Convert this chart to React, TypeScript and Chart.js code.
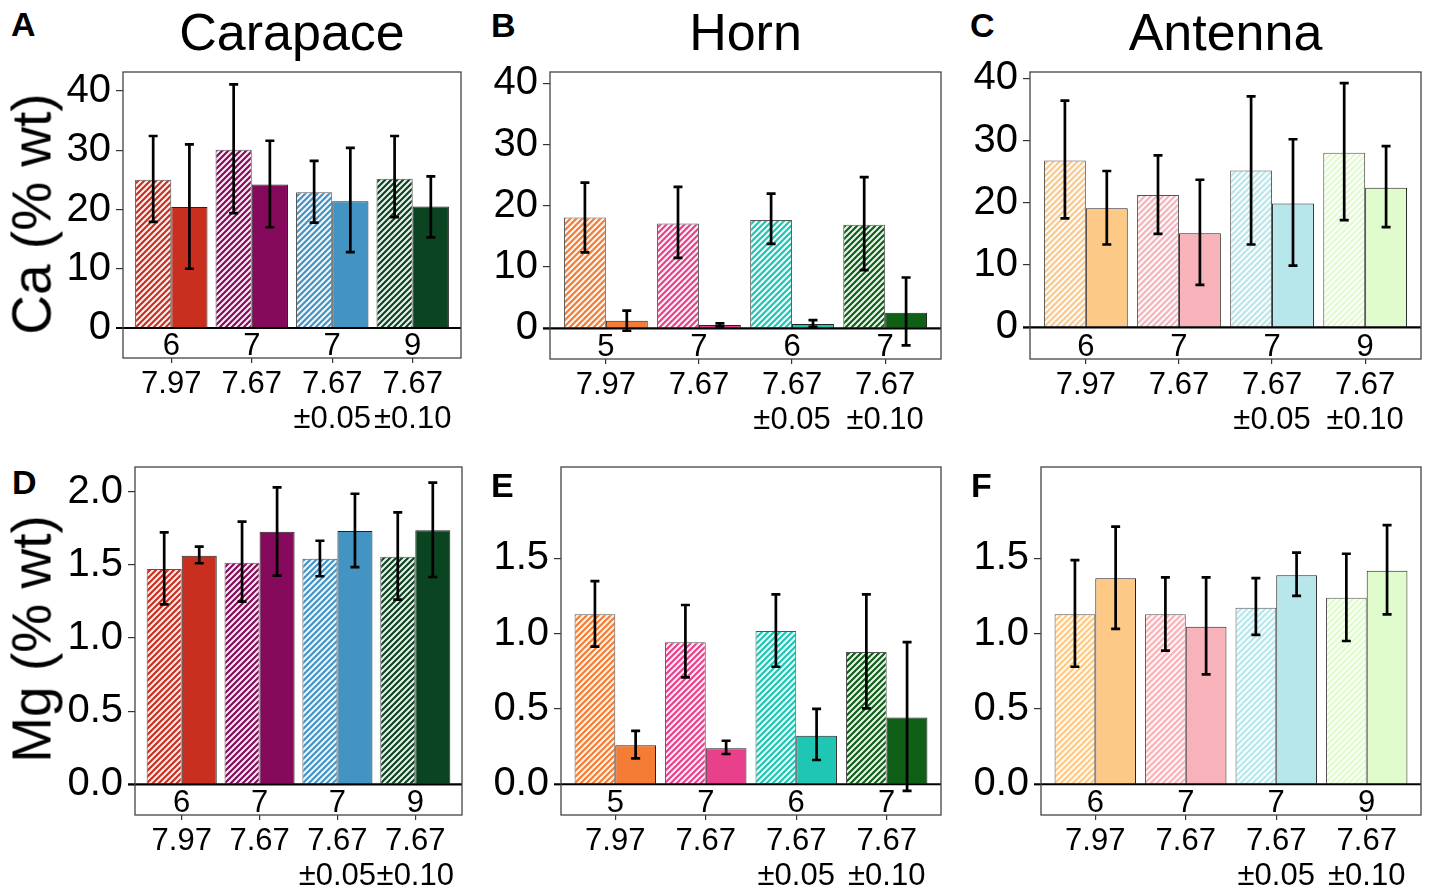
import React, { useEffect, useRef } from "react";
import { Chart, registerables } from "chart.js";

Chart.register(...registerables);

const FONT = "'Liberation Sans', Arial, Helvetica, sans-serif";

// ---- categories / tick labels ----
const phLabels: string[][] = [["7.97"], ["7.67"], ["7.67", "±0.05"], ["7.67", "±0.10"]];
const nCarapace = ["6", "7", "7", "9"];
const nHorn = ["5", "7", "6", "7"];
const nAntenna = ["6", "7", "7", "9"];

const caTicks = [0, 10, 20, 30, 40];
const mgTicksD = [0, 0.5, 1.0, 1.5, 2.0];
const mgTicksEF = [0, 0.5, 1.0, 1.5];

// ---- colours ----
const carapaceColors = ["#c92f1f", "#860a5c", "#4393c3", "#0a4420"];
const hornColors = ["#f47c34", "#e8408b", "#1fc6b4", "#0f5f17"];
const antennaColors = ["#fdc986", "#f8b2b9", "#b8e7eb", "#e0fbcc"];

// ---- A: Ca carapace ----
const caCarHatch = [25.0, 30.1, 22.9, 25.2];
const caCarHatchHi = [32.4, 41.1, 28.2, 32.4];
const caCarHatchLo = [17.9, 19.4, 17.8, 18.7];
const caCarSolid = [20.4, 24.2, 21.4, 20.5];
const caCarSolidHi = [31.0, 31.6, 30.4, 25.6];
const caCarSolidLo = [10.0, 17.0, 12.8, 15.3];

// ---- B: Ca horn ----
const caHornHatch = [18.1, 17.1, 17.7, 16.9];
const caHornHatchHi = [23.8, 23.1, 22.0, 24.7];
const caHornHatchLo = [12.4, 11.5, 13.8, 9.5];
const caHornSolid = [1.25, 0.55, 0.7, 2.55];
const caHornSolidHi = [2.9, 0.8, 1.35, 8.3];
const caHornSolidLo = [-0.4, 0.3, 0.25, -2.8];

// ---- C: Ca antenna ----
const caAntHatch = [26.8, 21.25, 25.2, 28.05];
const caAntHatchHi = [36.4, 27.6, 37.1, 39.2];
const caAntHatchLo = [17.5, 15.0, 13.3, 17.2];
const caAntSolid = [19.1, 15.1, 19.9, 22.4];
const caAntSolidHi = [25.1, 23.7, 30.2, 29.1];
const caAntSolidLo = [13.3, 6.8, 9.9, 16.1];

// ---- D: Mg carapace ----
const mgCarHatch = [1.472, 1.515, 1.542, 1.556];
const mgCarHatchHi = [1.722, 1.795, 1.665, 1.859];
const mgCarHatchLo = [1.23, 1.248, 1.422, 1.262];
const mgCarSolid = [1.563, 1.727, 1.731, 1.736];
const mgCarSolidHi = [1.624, 2.03, 1.986, 2.062];
const mgCarSolidLo = [1.511, 1.426, 1.485, 1.417];

// ---- E: Mg horn ----
const mgHornHatch = [1.128, 0.942, 1.017, 0.878];
const mgHornHatchHi = [1.349, 1.19, 1.261, 1.261];
const mgHornHatchLo = [0.913, 0.71, 0.78, 0.504];
const mgHornSolid = [0.259, 0.239, 0.322, 0.444];
const mgHornSolidHi = [0.354, 0.289, 0.5, 0.944];
const mgHornSolidLo = [0.172, 0.201, 0.161, -0.044];

// ---- F: Mg antenna ----
const mgAntHatch = [1.128, 1.128, 1.172, 1.238];
const mgAntHatchHi = [1.488, 1.374, 1.369, 1.53];
const mgAntHatchLo = [0.78, 0.887, 0.991, 0.951];
const mgAntSolid = [1.367, 1.046, 1.387, 1.418];
const mgAntSolidHi = [1.71, 1.374, 1.537, 1.72];
const mgAntSolidLo = [1.031, 0.73, 1.25, 1.128];

type PanelSpec = {
  id: string;
  left: number; top: number; width: number; height: number;
  padTop: number; padRight: number; yAxisW: number; xAxisH: number;
  yMin: number; yMax: number; yTicks: number[]; decimals: number;
  colors: string[]; n: string[];
  hatch: number[]; hatchHi: number[]; hatchLo: number[];
  solid: number[]; solidHi: number[]; solidLo: number[];
};

const panels: PanelSpec[] = [
  { id: "A", left: 40, top: 60, width: 440, height: 380, padTop: 12, padRight: 19, yAxisW: 83, xAxisH: 82,
    yMin: -5.06, yMax: 43.2, yTicks: caTicks, decimals: 0, colors: carapaceColors, n: nCarapace,
    hatch: caCarHatch, hatchHi: caCarHatchHi, hatchLo: caCarHatchLo, solid: caCarSolid, solidHi: caCarSolidHi, solidLo: caCarSolidLo },
  { id: "B", left: 480, top: 60, width: 480, height: 380, padTop: 12, padRight: 19, yAxisW: 70, xAxisH: 81,
    yMin: -5.01, yMax: 41.85, yTicks: caTicks, decimals: 0, colors: hornColors, n: nHorn,
    hatch: caHornHatch, hatchHi: caHornHatchHi, hatchLo: caHornHatchLo, solid: caHornSolid, solidHi: caHornSolidHi, solidLo: caHornSolidLo },
  { id: "C", left: 960, top: 60, width: 469, height: 380, padTop: 12, padRight: 8, yAxisW: 70, xAxisH: 81,
    yMin: -5.09, yMax: 41.0, yTicks: caTicks, decimals: 0, colors: antennaColors, n: nAntenna,
    hatch: caAntHatch, hatchHi: caAntHatchHi, hatchLo: caAntHatchLo, solid: caAntSolid, solidHi: caAntSolidHi, solidLo: caAntSolidLo },
  { id: "D", left: 40, top: 455, width: 440, height: 441, padTop: 12, padRight: 18, yAxisW: 95, xAxisH: 81,
    yMin: -0.21, yMax: 2.169, yTicks: mgTicksD, decimals: 1, colors: carapaceColors, n: nCarapace,
    hatch: mgCarHatch, hatchHi: mgCarHatchHi, hatchLo: mgCarHatchLo, solid: mgCarSolid, solidHi: mgCarSolidHi, solidLo: mgCarSolidLo },
  { id: "E", left: 480, top: 455, width: 480, height: 441, padTop: 12, padRight: 19, yAxisW: 81, xAxisH: 81,
    yMin: -0.204, yMax: 2.106, yTicks: mgTicksEF, decimals: 1, colors: hornColors, n: nHorn,
    hatch: mgHornHatch, hatchHi: mgHornHatchHi, hatchLo: mgHornHatchLo, solid: mgHornSolid, solidHi: mgHornSolidHi, solidLo: mgHornSolidLo },
  { id: "F", left: 960, top: 455, width: 469, height: 441, padTop: 12, padRight: 8, yAxisW: 81, xAxisH: 81,
    yMin: -0.204, yMax: 2.106, yTicks: mgTicksEF, decimals: 1, colors: antennaColors, n: nAntenna,
    hatch: mgAntHatch, hatchHi: mgAntHatchHi, hatchLo: mgAntHatchLo, solid: mgAntSolid, solidHi: mgAntSolidHi, solidLo: mgAntSolidLo },
];

function makeHatch(color: string): CanvasPattern | string {
  const t = 6;
  const c = document.createElement("canvas");
  c.width = t; c.height = t;
  const ctx = c.getContext("2d");
  if (!ctx) return color;
  ctx.fillStyle = color;
  ctx.fillRect(0, 0, t, t);
  ctx.strokeStyle = "rgba(255,255,255,0.92)";
  ctx.lineWidth = 2.1;
  ctx.beginPath();
  ctx.moveTo(-1, t + 1); ctx.lineTo(t + 1, -1);
  ctx.moveTo(-1, 1); ctx.lineTo(1, -1);
  ctx.moveTo(t - 1, t + 1); ctx.lineTo(t + 1, t - 1);
  ctx.stroke();
  const p = ctx.createPattern(c, "repeat");
  return p || color;
}

function zeroPaddings(s: any) {
  s.paddingLeft = 0; s.paddingRight = 0; s.paddingTop = 0; s.paddingBottom = 0;
}

function buildChart(canvas: HTMLCanvasElement, p: PanelSpec) {
  const hiArr = [p.hatchHi, p.solidHi];
  const loArr = [p.hatchLo, p.solidLo];
  const panelPlugin = {
    id: "panelDecor" + p.id,
    afterDatasetsDraw(chart: any) {
      const { ctx, chartArea } = chart;
      const xs = chart.scales.x;
      const ys = chart.scales.y;
      ctx.save();
      // zero line
      const y0 = ys.getPixelForValue(0);
      ctx.strokeStyle = "#000";
      ctx.lineWidth = 2.2;
      ctx.beginPath();
      ctx.moveTo(chartArea.left - 7, y0);
      ctx.lineTo(chartArea.right, y0);
      ctx.stroke();
      // error bars
      ctx.lineWidth = 2.7;
      ctx.lineCap = "butt";
      for (let d = 0; d < 2; d++) {
        const meta = chart.getDatasetMeta(d);
        meta.data.forEach((el: any, j: number) => {
          const x = el.x;
          const yt = ys.getPixelForValue(hiArr[d][j]);
          const yb = ys.getPixelForValue(loArr[d][j]);
          ctx.beginPath();
          ctx.moveTo(x, yt); ctx.lineTo(x, yb);
          ctx.moveTo(x - 4.5, yt); ctx.lineTo(x + 4.5, yt);
          ctx.moveTo(x - 4.5, yb); ctx.lineTo(x + 4.5, yb);
          ctx.stroke();
        });
      }
      // n labels
      ctx.fillStyle = "#000";
      ctx.font = `31px ${FONT}`;
      ctx.textAlign = "center";
      ctx.textBaseline = "middle";
      p.n.forEach((t, i) => {
        ctx.fillText(t, xs.getPixelForValue(i + 1), chartArea.bottom - 12);
      });
      ctx.restore();
    },
    afterDraw(chart: any) {
      const { ctx, chartArea } = chart;
      ctx.save();
      ctx.strokeStyle = "#444";
      ctx.lineWidth = 1.3;
      ctx.strokeRect(chartArea.left, chartArea.top, chartArea.right - chartArea.left, chartArea.bottom - chartArea.top);
      ctx.restore();
    },
  };

  return new Chart(canvas, {
    type: "bar",
    data: {
      datasets: [
        {
          label: "hatched",
          data: p.hatch.map((v, i) => ({ x: i + 1, y: v })),
          backgroundColor: p.colors.map((c) => makeHatch(c)) as any,
          borderColor: "#555",
          borderWidth: 1,
          categoryPercentage: 0.9,
          barPercentage: 1.0,
        },
        {
          label: "solid",
          data: p.solid.map((v, i) => ({ x: i + 1, y: v })),
          backgroundColor: p.colors,
          borderColor: "#222",
          borderWidth: 1,
          categoryPercentage: 0.9,
          barPercentage: 1.0,
        },
      ],
    },
    options: {
      animation: false,
      responsive: false,
      devicePixelRatio: 1,
      layout: { padding: { top: p.padTop, right: p.padRight, left: 0, bottom: 0 } },
      plugins: { legend: { display: false }, tooltip: { enabled: false }, title: { display: false } },
      scales: {
        x: {
          type: "linear",
          min: 0.4,
          max: 4.6,
          offset: false,
          grid: { display: true, offset: false, drawOnChartArea: false, drawTicks: true, tickLength: 5, color: "#333", lineWidth: 1.2 },
          border: { display: false },
          ticks: {
            autoSkip: false,
            maxRotation: 0,
            minRotation: 0,
            padding: 4,
            color: "#000",
            font: { family: FONT, size: 31, lineHeight: 1.13 },
            callback: (v: any) => phLabels[Math.round(Number(v)) - 1] as any,
          },
          afterBuildTicks: (s: any) => { s.ticks = [1, 2, 3, 4].map((v) => ({ value: v })); },
          afterFit: (s: any) => { s.height = p.xAxisH; zeroPaddings(s); },
        } as any,
        y: {
          type: "linear",
          min: p.yMin,
          max: p.yMax,
          grid: { display: true, drawOnChartArea: false, drawTicks: true, tickLength: 7, color: "#333", lineWidth: 1.2 },
          border: { display: false },
          ticks: {
            padding: 5,
            color: "#000",
            font: { family: FONT, size: 40 },
            callback: (v: any) => Number(v).toFixed(p.decimals),
          },
          afterBuildTicks: (s: any) => { s.ticks = p.yTicks.map((v) => ({ value: v })); },
          afterFit: (s: any) => { s.width = p.yAxisW; zeroPaddings(s); },
        } as any,
      },
    },
    plugins: [panelPlugin],
  } as any);
}

function Panel({ spec }: { spec: PanelSpec }) {
  const ref = useRef<HTMLCanvasElement | null>(null);
  useEffect(() => {
    if (!ref.current) return;
    const chart = buildChart(ref.current, spec);
    return () => chart.destroy();
  }, [spec]);
  return (
    <canvas
      ref={ref}
      width={spec.width}
      height={spec.height}
      style={{ position: "absolute", left: spec.left, top: spec.top, width: spec.width, height: spec.height }}
    />
  );
}

const letters = [
  { t: "A", left: 11, top: 7 },
  { t: "B", left: 491, top: 8 },
  { t: "C", left: 970, top: 8 },
  { t: "D", left: 12, top: 465 },
  { t: "E", left: 491, top: 468 },
  { t: "F", left: 971, top: 468 },
];

const titles = [
  { t: "Carapace", cx: 292 },
  { t: "Horn", cx: 745.5 },
  { t: "Antenna", cx: 1225.5 },
];

const yTitles = [
  { t: "Ca (% wt)", cy: 214 },
  { t: "Mg (% wt)", cy: 639 },
];

export default function App() {
  return (
    <div
      style={{
        position: "absolute", left: 0, top: 0, width: 1429, height: 896,
        background: "#fff", overflow: "hidden", fontFamily: FONT, color: "#000",
      }}
    >
      {panels.map((p) => (
        <Panel key={p.id} spec={p} />
      ))}
      {letters.map((l) => (
        <div key={l.t} style={{ position: "absolute", left: l.left, top: l.top, fontSize: 34, fontWeight: "bold", lineHeight: 1 }}>
          {l.t}
        </div>
      ))}
      {titles.map((t) => (
        <div key={t.t} style={{ position: "absolute", left: t.cx, top: 6, transform: "translateX(-50%)", fontSize: 52, lineHeight: 1, whiteSpace: "nowrap" }}>
          {t.t}
        </div>
      ))}
      {yTitles.map((t) => (
        <div key={t.t} style={{ position: "absolute", left: 32, top: t.cy, transform: "translate(-50%, -50%) rotate(-90deg)", fontSize: 55, lineHeight: 1, whiteSpace: "nowrap" }}>
          {t.t}
        </div>
      ))}
    </div>
  );
}
